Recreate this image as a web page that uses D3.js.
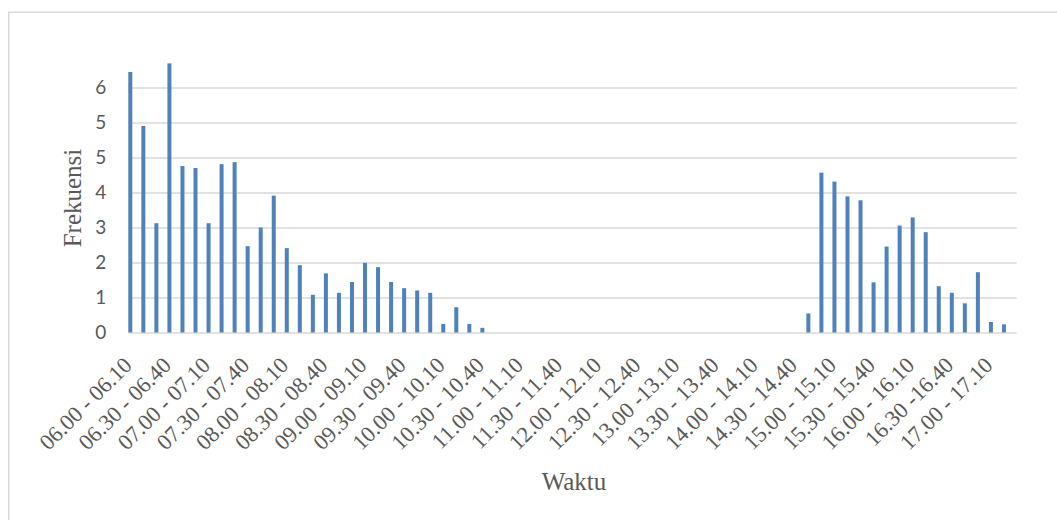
<!DOCTYPE html>
<html>
<head>
<meta charset="utf-8">
<script src="https://cdn.jsdelivr.net/npm/d3@7"></script>
<style>
  html, body { margin: 0; padding: 0; background: #fff; }
  svg { display: block; }
</style>
</head>
<body>
<svg id="chart" width="1057" height="520"></svg>
<script>
// Ten-minute time slots, 06.00 to 17.20
const categories = [
  "06.00 - 06.10", "06.10 - 06.20", "06.20 - 06.30",
  "06.30 - 06.40", "06.40 - 06.50", "06.50 - 07.00",
  "07.00 - 07.10", "07.10 - 07.20", "07.20 - 07.30",
  "07.30 - 07.40", "07.40 - 07.50", "07.50 - 08.00",
  "08.00 - 08.10", "08.10 - 08.20", "08.20 - 08.30",
  "08.30 - 08.40", "08.40 - 08.50", "08.50 - 09.00",
  "09.00 - 09.10", "09.10 - 09.20", "09.20 - 09.30",
  "09.30 - 09.40", "09.40 - 09.50", "09.50 - 10.00",
  "10.00 - 10.10", "10.10 - 10.20", "10.20 - 10.30",
  "10.30 - 10.40", "10.40 - 10.50", "10.50 - 11.00",
  "11.00 - 11.10", "11.10 - 11.20", "11.20 - 11.30",
  "11.30 - 11.40", "11.40 - 11.50", "11.50 - 12.00",
  "12.00 - 12.10", "12.10 - 12.20", "12.20 - 12.30",
  "12.30 - 12.40", "12.40 - 12.50", "12.50 - 13.00",
  "13.00 -13.10", "13.10 - 13.20", "13.20 - 13.30",
  "13.30 - 13.40", "13.40 - 13.50", "13.50 - 14.00",
  "14.00 - 14.10", "14.10 - 14.20", "14.20 - 14.30",
  "14.30 - 14.40", "14.40 - 14.50", "14.50 - 15.00",
  "15.00 - 15.10", "15.10 - 15.20", "15.20 - 15.30",
  "15.30 - 15.40", "15.40 - 15.50", "15.50 - 16.00",
  "16.00 - 16.10", "16.10 - 16.20", "16.20 - 16.30",
  "16.30 -16.40", "16.40 - 16.50", "16.50 - 17.00",
  "17.00 - 17.10", "17.10 - 17.20"
];

// Frequency per time slot
const frekuensi = [
  6.70, 5.31, 2.81, 6.92, 4.28, 4.23, 2.81, 4.33, 4.38, 2.22,
  2.70, 3.52, 2.17, 1.73, 0.97, 1.52, 1.02, 1.30, 1.79, 1.68,
  1.30, 1.14, 1.08, 1.02, 0.22, 0.65, 0.22, 0.12, 0, 0,
  0, 0, 0, 0, 0, 0, 0, 0, 0, 0,
  0, 0, 0, 0, 0, 0, 0, 0, 0, 0,
  0, 0, 0.49, 4.11, 3.88, 3.50, 3.40, 1.29, 2.21, 2.75,
  2.96, 2.58, 1.19, 1.02, 0.75, 1.55, 0.27, 0.21
];

// Value-axis gridlines
const yTicks = [0, 0.9, 1.8, 2.7, 3.6, 4.5, 5.4, 6.3];
const yMax = 7.2;

const svg = d3.select("#chart");
const W = 1057, H = 520;
const plot = { left: 128.3, right: 1015, top: 52.5, bottom: 332.5 };
const textColor = "#595959";
const gridColor = "#d9d9d9";
const barColor = "#4f81bd";
const serif = "'Liberation Serif', 'Times New Roman', serif";

// Outer chart border
svg.append("rect")
  .attr("x", 8.75).attr("y", 12.25)
  .attr("width", W + 20).attr("height", H + 20)
  .attr("fill", "none")
  .attr("stroke", gridColor)
  .attr("stroke-width", 1.5);

const x = d3.scaleBand()
  .domain(categories)
  .range([plot.left, plot.right])
  .paddingInner(0).paddingOuter(0);

const y = d3.scaleLinear()
  .domain([0, yMax])
  .range([plot.bottom, plot.top]);

const barW = 4;

// Gridlines and value labels
const yAxis = d3.axisLeft(y)
  .tickValues(yTicks)
  .tickFormat(d3.format(".0f"))
  .tickSize(-(plot.right + 1.7 - plot.left))
  .tickPadding(22);

const gy = svg.append("g")
  .attr("transform", `translate(${plot.left},0)`)
  .call(yAxis);
gy.select(".domain").remove();
gy.selectAll(".tick line")
  .attr("stroke", gridColor)
  .attr("stroke-width", 1.5);
gy.selectAll(".tick text")
  .attr("fill", textColor)
  .style("font-family", "Lato, 'Open Sans', sans-serif")
  .style("font-size", "19px");

// Bars
svg.append("g")
  .selectAll("rect")
  .data(frekuensi)
  .join("rect")
  .attr("x", (d, i) => x(categories[i]))
  .attr("width", barW)
  .attr("y", d => y(d))
  .attr("height", d => y(0) - y(d))
  .attr("fill", barColor);

// Category labels, every third slot, slanted
const xAxis = d3.axisBottom(x)
  .tickValues(categories.filter((c, i) => i % 3 === 0))
  .tickSize(0)
  .tickPadding(0);

const gx = svg.append("g")
  .attr("transform", `translate(0,${plot.bottom})`)
  .call(xAxis);
gx.select(".domain").remove();
gx.selectAll(".tick text")
  .attr("fill", textColor)
  .style("font-family", serif)
  .style("font-size", "22.5px")
  .attr("text-anchor", "end")
  .attr("y", 0)
  .attr("dy", 0)
  .attr("transform", `translate(-1.5,34) rotate(-45)`);

// Axis titles
svg.append("text")
  .attr("x", 574).attr("y", 490)
  .attr("text-anchor", "middle")
  .attr("fill", textColor)
  .style("font-family", serif)
  .style("font-size", "25px")
  .text("Waktu");

svg.append("text")
  .attr("transform", "translate(81,198) rotate(-90)")
  .attr("text-anchor", "middle")
  .attr("fill", textColor)
  .style("font-family", serif)
  .style("font-size", "25px")
  .text("Frekuensi");
</script>
</body>
</html>
